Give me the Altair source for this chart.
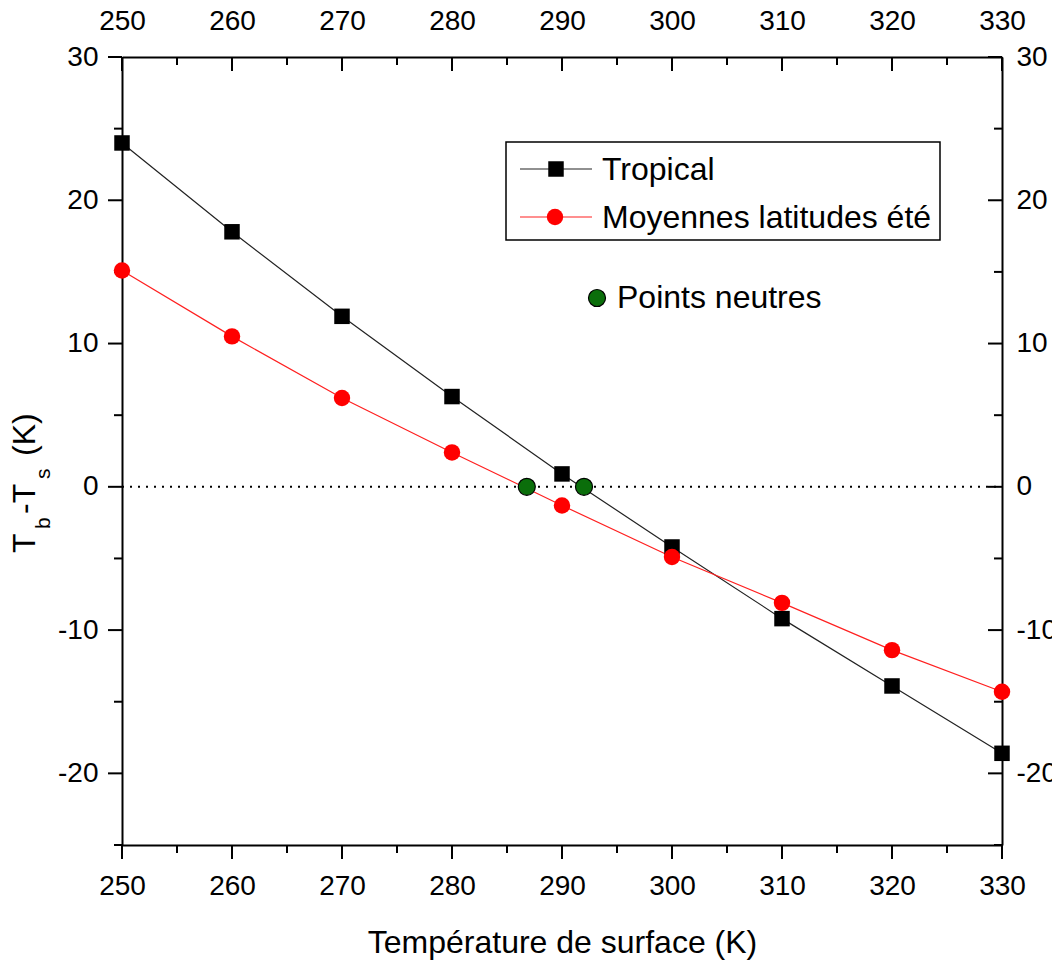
import altair as alt
import pandas as pd

# ---- data ----
temps = [250, 260, 270, 280, 290, 300, 310, 320, 330]
tropical = [24.0, 17.8, 11.9, 6.3, 0.9, -4.2, -9.2, -13.9, -18.6]
mid_lat = [15.1, 10.5, 6.2, 2.4, -1.3, -4.9, -8.1, -11.4, -14.3]
neutral_t = [286.8, 292.0]
neutral_v = [0.0, 0.0]

x_major = [250, 260, 270, 280, 290, 300, 310, 320, 330]
x_minor = [255, 265, 275, 285, 295, 305, 315, 325]
y_major = [-20, -10, 0, 10, 20, 30]
y_minor = [-25, -15, -5, 5, 15, 25]

X_DOMAIN = [250, 330]
Y_DOMAIN = [-25, 30]

W, H = 880, 788
FONT = "Liberation Sans"
TICK_FS = 28
MAJ, MIN = 14, 8

trop_df = pd.DataFrame({"x": temps, "y": tropical})
mid_df = pd.DataFrame({"x": temps, "y": mid_lat})
neu_df = pd.DataFrame({"x": neutral_t, "y": neutral_v})
zero_df = pd.DataFrame({"x": [X_DOMAIN[0]], "x2": [X_DOMAIN[1]], "y": [0]})
one = pd.DataFrame({"a": [0]})

xs = alt.Scale(domain=X_DOMAIN, nice=False, zero=False)
ys = alt.Scale(domain=Y_DOMAIN, nice=False, zero=False)

common_axis = dict(
    ticks=False, tickSize=0, grid=False, domainColor="black", domainWidth=2,
    labelColor="black", labelFont=FONT, labelFontSize=TICK_FS, labelFlush=False,
    labelOverlap=False, labelExpr="'' + datum.value",
)
ax_bottom = alt.Axis(orient="bottom", values=x_major, labelPadding=27,
                     title="Température de surface (K)", titleFont=FONT,
                     titleFontSize=32, titleFontWeight="normal", titleColor="black",
                     titlePadding=27, **common_axis)
ax_left = alt.Axis(orient="left", values=y_major, labelPadding=24, title=None,
                   **common_axis)
ax_top = alt.Axis(orient="top", values=x_major, labelPadding=22, title=None,
                  **common_axis)
ax_right = alt.Axis(orient="right", values=y_major, labelPadding=14, title=None,
                    **common_axis)

X = lambda: alt.X("x:Q", scale=xs, axis=ax_bottom)
Y = lambda: alt.Y("y:Q", scale=ys, axis=ax_left)

layers = []

# zero dotted line
layers.append(alt.Chart(zero_df).mark_rule(color="black", strokeWidth=2, strokeDash=[2, 6])
              .encode(x=X(), x2="x2:Q", y=Y()))

# ticks (manual: outward on bottom/left, inward on top/right)
def xticks(vals, length, top):
    df = pd.DataFrame({"x": vals})
    if top:
        return alt.Chart(df).mark_rule(color="black", strokeWidth=2).encode(
            x=X(), y=alt.value(0), y2=alt.value(length))
    return alt.Chart(df).mark_rule(color="black", strokeWidth=2).encode(
        x=X(), y=alt.value(H), y2=alt.value(H + length))

def yticks(vals, length, right):
    df = pd.DataFrame({"y": vals})
    if right:
        return alt.Chart(df).mark_rule(color="black", strokeWidth=2).encode(
            y=Y(), x=alt.value(W - length), x2=alt.value(W))
    return alt.Chart(df).mark_rule(color="black", strokeWidth=2).encode(
        y=Y(), x=alt.value(-length), x2=alt.value(0))

for top in (False, True):
    layers.append(xticks(x_major, MAJ, top))
    layers.append(xticks(x_minor, MIN, top))
for right in (False, True):
    layers.append(yticks(y_major, MAJ, right))
    layers.append(yticks(y_minor, MIN, right))

# series lines
layers.append(alt.Chart(trop_df).mark_line(color="#222222", strokeWidth=1.2)
              .encode(x=X(), y=Y()))
layers.append(alt.Chart(mid_df).mark_line(color="#ff2020", strokeWidth=1.2)
              .encode(x=X(), y=Y()))
# markers
SQ, CI, GR = 240, 270, 290
layers.append(alt.Chart(trop_df).mark_point(shape="square", filled=True, color="black",
                                             size=SQ, opacity=1)
              .encode(x=X(), y=Y()))
layers.append(alt.Chart(mid_df).mark_point(shape="circle", filled=True, color="#ff0000",
                                            size=CI, opacity=1)
              .encode(x=X(), y=Y()))
layers.append(alt.Chart(neu_df).mark_point(shape="circle", filled=True, fill="#0b6e0b",
                                            stroke="black", strokeWidth=1.2,
                                            size=GR, opacity=1)
              .encode(x=X(), y=Y()))

# legend box
layers.append(alt.Chart(one).mark_rect(fill="white", stroke="black", strokeWidth=1.5)
              .encode(x=alt.value(384), x2=alt.value(818), y=alt.value(85), y2=alt.value(183)))
layers.append(alt.Chart(one).mark_rule(color="#222222", strokeWidth=1.2)
              .encode(x=alt.value(398), x2=alt.value(470), y=alt.value(112)))
layers.append(alt.Chart(one).mark_rule(color="#ff2020", strokeWidth=1.2)
              .encode(x=alt.value(398), x2=alt.value(470), y=alt.value(160)))
layers.append(alt.Chart(one).mark_point(shape="square", filled=True, color="black",
                                         size=SQ, opacity=1)
              .encode(x=alt.value(434), y=alt.value(112)))
layers.append(alt.Chart(one).mark_point(shape="circle", filled=True, color="#ff0000",
                                         size=CI, opacity=1)
              .encode(x=alt.value(433), y=alt.value(160)))
layers.append(alt.Chart(one).mark_point(shape="circle", filled=True, fill="#0b6e0b",
                                         stroke="black", strokeWidth=1.2, size=GR, opacity=1)
              .encode(x=alt.value(475), y=alt.value(241)))

def label(txt, x, y, size=32, **kw):
    return alt.Chart(one).mark_text(font=FONT, fontSize=size, color="black",
                                    align="left", baseline="middle", **kw).encode(
        x=alt.value(x), y=alt.value(y), text=alt.value(txt))

layers.append(label("Tropical", 480, 113))
layers.append(label("Moyennes latitudes été", 480, 161))
layers.append(label("Points neutres", 495, 241))

# y axis title: T_b - T_s (K), rotated
def ytitle(txt, x, y, size):
    return alt.Chart(one).mark_text(font=FONT, fontSize=size, color="black", angle=270,
                                    align="left", baseline="alphabetic").encode(
        x=alt.value(x), y=alt.value(y), text=alt.value(txt))

layers.append(ytitle("T", -87, 496, 32))
layers.append(ytitle("b", -72, 472, 21))
layers.append(ytitle("-T", -87, 457, 32))
layers.append(ytitle("s", -72, 422, 21))
layers.append(ytitle("(K)", -87, 399, 32))

inner = alt.layer(*layers)

axes_b = alt.Chart(trop_df).mark_point(opacity=0).encode(
    x=alt.X("x:Q", scale=xs, axis=ax_top),
    y=alt.Y("y:Q", scale=ys, axis=ax_right),
)

chart = (
    alt.layer(inner, axes_b)
    .resolve_scale(x="independent", y="independent")
    .properties(width=W, height=H, background="white",
                padding={"left": 122, "top": 57, "right": 50, "bottom": 124},
                autosize=alt.AutoSizeParams(type="none"))
    .configure_view(stroke=None)
)

chart.save("out.html", embed_options={"renderer": "svg", "actions": False})
